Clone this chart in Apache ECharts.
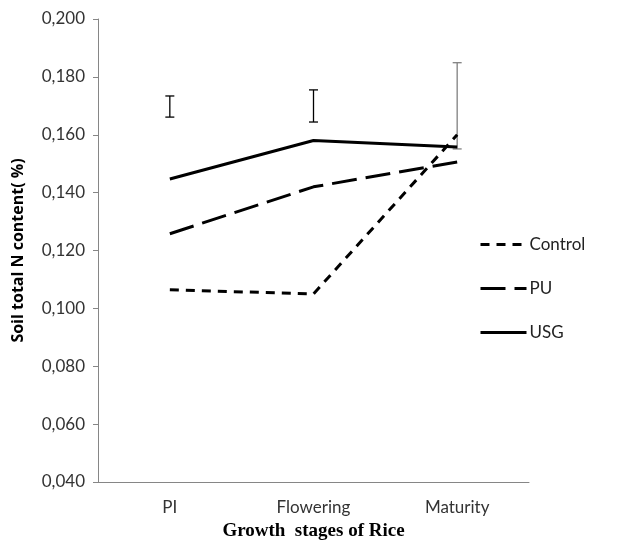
<!DOCTYPE html>
<html><head><meta charset="utf-8">
<script src="https://cdn.jsdelivr.net/npm/echarts@6/dist/echarts.min.js"></script>
<style>html,body{margin:0;padding:0;background:#fff}#c{width:625px;height:547px}</style>
</head><body><div id="c"></div>
<script>
const categories = ['PI', 'Flowering', 'Maturity'];
const control = [0.1064, 0.1050, 0.1600];
const pu = [0.1258, 0.1420, 0.1506];
const usg = [0.1447, 0.1580, 0.1558];
const errLow = [0.1661, 0.1644, 0.1551];
const errHigh = [0.1734, 0.1755, 0.1849];
const errColors = ['#000000', '#000000', '#808080'];

const chart = echarts.init(document.getElementById('c'));
const fmt = v => v.toFixed(3).replace('.', ',');
chart.setOption({
  animation: false,
  grid: {left: 98, right: 96, top: 19, bottom: 65},
  legend: {
    orient: 'vertical', left: 474, top: 231, itemWidth: 46, itemHeight: 14, itemGap: 27,
    itemStyle: {opacity: 0},
    lineStyle: {width: 3},
    textStyle: {fontFamily: 'Lato', fontSize: 17, color: '#222', padding: [0, 0, 0, -2]},
    data: ['Control', 'PU', 'USG']
  },
  xAxis: {
    type: 'category', data: categories, boundaryGap: true,
    axisLine: {lineStyle: {color: '#868686'}},
    axisTick: {alignWithLabel: true, length: 5, inside: true, lineStyle: {color: '#868686'}},
    axisLabel: {fontFamily: 'Lato', fontSize: 17, color: '#333', margin: 17},
    name: 'Growth  stages of Rice', nameLocation: 'middle', nameGap: 40,
    nameTextStyle: {fontFamily: 'Liberation Serif', fontWeight: 'bold', fontSize: 19, color: '#000'}
  },
  yAxis: {
    type: 'value', min: 0.04, max: 0.2, interval: 0.02,
    axisLine: {show: true, lineStyle: {color: '#868686'}},
    axisTick: {show: true, length: 5, lineStyle: {color: '#868686'}},
    splitLine: {show: false},
    axisLabel: {fontFamily: 'Lato', fontSize: 17, color: '#333', margin: 13, formatter: fmt},
    name: 'Soil total N content( %)', nameLocation: 'middle', nameGap: 72, nameRotate: 90,
    nameTextStyle: {fontFamily: 'Open Sans', fontWeight: 'bold', fontSize: 16, color: '#000'}
  },
  series: [
    {name: 'Control', type: 'line', data: control, symbol: 'none', lineStyle: {color: '#000', width: 3, type: [9, 7]}, itemStyle: {color: '#000'}},
    {name: 'PU', type: 'line', data: pu, symbol: 'none', lineStyle: {color: '#000', width: 3, type: [25, 9]}, itemStyle: {color: '#000'}},
    {name: 'USG', type: 'line', data: usg, symbol: 'none', lineStyle: {color: '#000', width: 3}, itemStyle: {color: '#000'}},
    {name: 'err', type: 'custom', data: categories.map((c, i) => [i, errLow[i], errHigh[i]]),
     encode: {x: 0, y: [1, 2]},
     renderItem: function (params, api) {
       const i = api.value(0);
       const lo = api.coord([i, api.value(1)]);
       const hi = api.coord([i, api.value(2)]);
       const w = 4.5;
       const st = {stroke: errColors[params.dataIndex], lineWidth: 1.3};
       return {type: 'group', children: [
         {type: 'line', shape: {x1: lo[0], y1: lo[1], x2: hi[0], y2: hi[1]}, style: st},
         {type: 'line', shape: {x1: lo[0] - w, y1: lo[1], x2: lo[0] + w, y2: lo[1]}, style: st},
         {type: 'line', shape: {x1: hi[0] - w, y1: hi[1], x2: hi[0] + w, y2: hi[1]}, style: st}
       ]};
     }}
  ]
});
</script></body></html>
